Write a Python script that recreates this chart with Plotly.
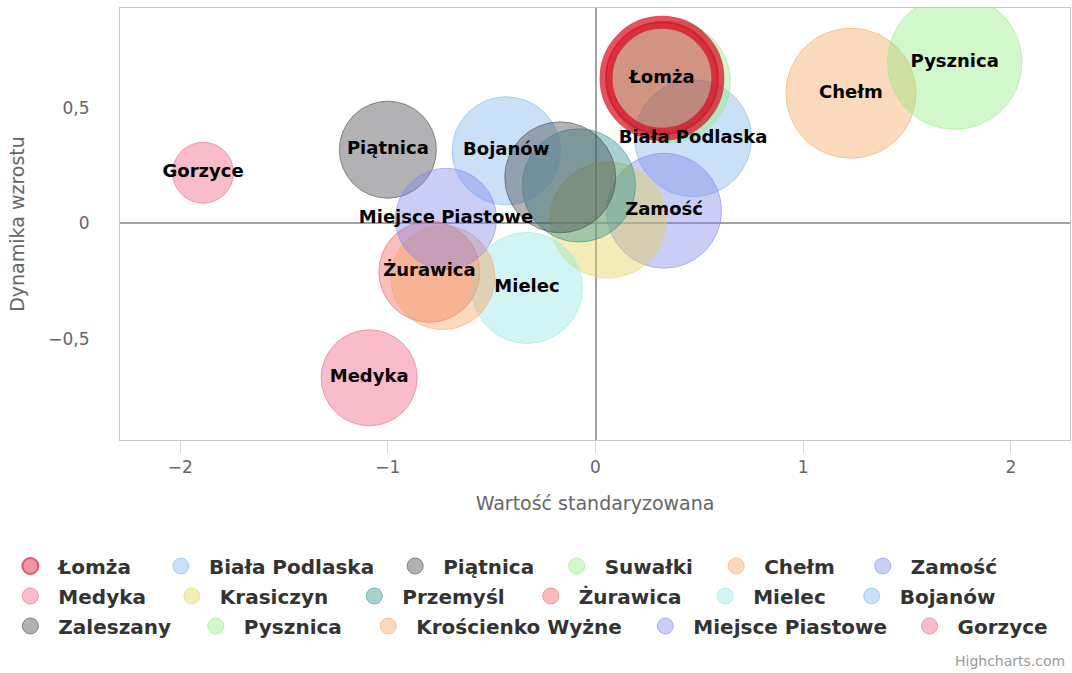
import plotly.graph_objects as go

# bubble chart: standardised value vs growth dynamics
names = ["Łomża", "Biała Podlaska", "Piątnica", "Suwałki", "Chełm", "Zamość",
         "Medyka", "Krasiczyn", "Przemyśl", "Żurawica", "Mielec", "Bojanów",
         "Zaleszany", "Pysznica", "Krościenko Wyżne", "Miejsce Piastowe", "Gorzyce"]
x_std = [0.32, 0.47, -1.0, 0.355, 1.23, 0.33, -1.09, 0.06, -0.08, -0.80, -0.33,
         -0.43, -0.17, 1.73, -0.735, -0.72, -1.89]
y_dyn = [0.63, 0.37, 0.32, 0.615, 0.565, 0.055, -0.67, 0.015, 0.165, -0.21,
         -0.28, 0.315, 0.20, 0.70, -0.235, 0.02, 0.22]
z_size = [125, 137, 94, 149, 169, 132, 92, 135, 128, 102, 123, 117, 123, 180,
          108, 102, 37]
# labels Highcharts kept (the rest were hidden by overlap)
labelled = ["Łomża", "Biała Podlaska", "Piątnica", "Chełm", "Zamość", "Medyka",
            "Żurawica", "Mielec", "Bojanów", "Pysznica", "Miejsce Piastowe", "Gorzyce"]
highlighted = "Łomża"

colors = ["#d0021b", "#7cb5ec", "#434348", "#90ed7d", "#f7a35c", "#8085e9",
          "#f15c80", "#e4d354", "#2b908f", "#f45b5b", "#91e8e1", "#7cb5ec",
          "#434348", "#90ed7d", "#f7a35c", "#8085e9", "#f15c80"]

FONT = "DejaVu Sans"
L, R, T, B = 117, 2, 8, 233
W, H = 1072, 673
PW, PH = W - L - R, H - T - B

# legend layout, Highcharts style: 3 rows, symbol centres in px
legend_rows = [[27, 178, 413, 575, 735, 882],
               [27, 189, 372, 549, 724, 871],
               [27, 213, 386, 664, 929]]
legend_row_y = [566, 596, 626]


def rgba(hexcol, a):
    h = hexcol.lstrip("#")
    r, g, b = (int(h[k:k + 2], 16) for k in (0, 2, 4))
    return f"rgba({r},{g},{b},{a})"


def legend_key(i):
    return "legend" if i == 0 else f"legend{i + 1}"


fig = go.Figure()
hi = names.index(highlighted)
order = [i for i in range(len(names)) if i != hi] + [hi]
for i in order:
    fig.add_trace(go.Scatter(
        x=[x_std[i]], y=[y_dyn[i]], mode="markers", name=names[i],
        legend=legend_key(i),
        marker=dict(size=[z_size[i]], sizemode="area", sizeref=0.02,
                    color=rgba(colors[i], 0.58),
                    line=dict(color=rgba(colors[i], 0.9), width=1 if i != hi else 2))))
    if i == hi:
        # selected-point ring
        fig.add_trace(go.Scatter(
            x=[x_std[i]], y=[y_dyn[i]], mode="markers", showlegend=False,
            hoverinfo="skip",
            marker=dict(size=[z_size[i]], sizemode="area", sizeref=0.02,
                        color="rgba(0,0,0,0)",
                        line=dict(color="#d7091d", width=13))))

lab_idx = [names.index(n) for n in labelled]
fig.add_trace(go.Scatter(
    x=[x_std[i] for i in lab_idx], y=[y_dyn[i] for i in lab_idx],
    text=[names[i] for i in lab_idx], mode="text", showlegend=False,
    hoverinfo="skip", textposition="middle center",
    textfont=dict(family=FONT, size=18, color="#000000", weight="bold")))

axis_common = dict(showgrid=False, showline=True, mirror=True, linecolor="#c8c8c8",
                   linewidth=1, zeroline=True, zerolinecolor="#a3a3a3",
                   zerolinewidth=2, tickfont=dict(family=FONT, size=17, color="#666666"),
                   title_font=dict(family=FONT, size=19, color="#666666"),
                   automargin=False)

fig.update_layout(
    width=W, height=H, margin=dict(l=L, r=R, t=T, b=B),
    paper_bgcolor="white", plot_bgcolor="white",
    separators=", ",
    xaxis=dict(axis_common, range=[-2.29, 2.285], dtick=1, tick0=0,
               ticks="outside", ticklen=12, tickcolor="#ccd6eb",
               title=dict(text="Wartość standaryzowana", standoff=20)),
    yaxis=dict(axis_common, range=[-0.94, 0.935], dtick=0.5, tick0=0,
               ticks="", ticklabelstandoff=26,
               title=dict(text="Dynamika wzrostu", standoff=18)),
)

for i in range(len(names)):
    row, col = divmod(i, 6)
    sym_x = legend_rows[row][col]
    fig.update_layout({legend_key(i): dict(
        x=(sym_x - 28 - L) / PW, xanchor="left",
        y=(T + PH - legend_row_y[row]) / PH, yanchor="middle",
        orientation="h", itemwidth=46, bgcolor="rgba(0,0,0,0)",
        font=dict(family=FONT, size=20, color="#333333", weight="bold"))})

fig.add_annotation(text="Highcharts.com", xref="paper", yref="paper",
                   x=(1067 - L) / PW, y=(T + PH - 661) / PH, xanchor="right",
                   yanchor="middle", showarrow=False,
                   font=dict(family=FONT, size=14, color="#999999"))

fig.write_html("out.html", config={"displayModeBar": False},
               post_script="document.body.style.margin = '0';")
